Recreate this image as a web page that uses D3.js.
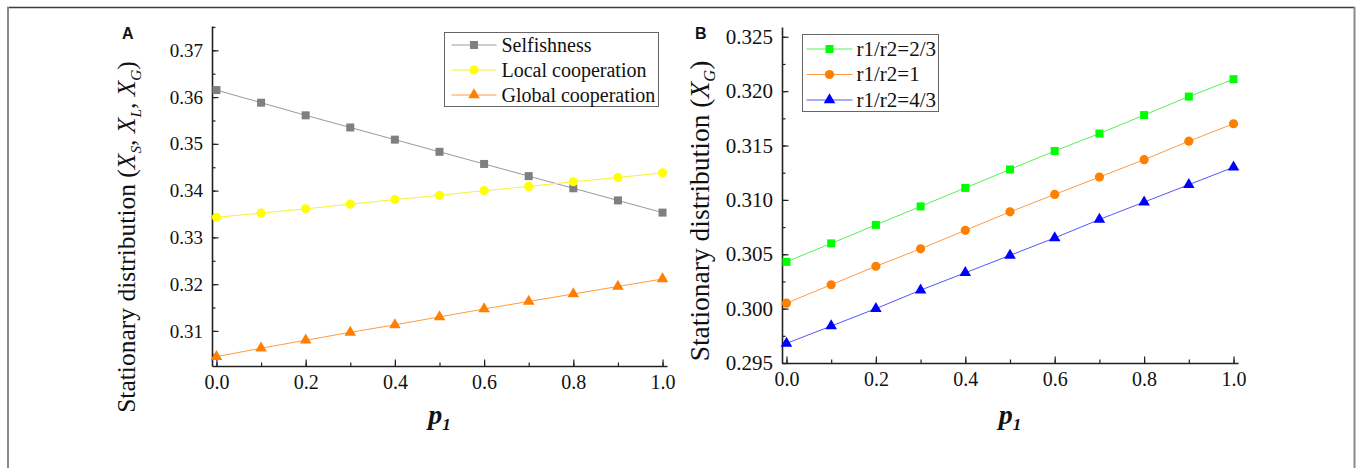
<!DOCTYPE html>
<html>
<head>
<meta charset="utf-8">
<script src="https://cdn.jsdelivr.net/npm/d3@7"></script>
<style>
  body { margin: 0; background: #fff; }
  svg { display: block; }
  svg text { font-family: "Liberation Serif", "Times New Roman", serif; }
</style>
</head>
<body>
<svg id="chart" width="1360" height="468"></svg>
<script>
// x values shared by both panels
const p1 = [0, 0.1, 0.2, 0.3, 0.4, 0.5, 0.6, 0.7, 0.8, 0.9, 1.0];

// panel A
const selfishness = [0.3615, 0.3588, 0.3561, 0.3535, 0.3509, 0.3483, 0.3457, 0.3431, 0.3405, 0.3379, 0.3353];
const localCoop = [0.3343, 0.3352, 0.3361, 0.3371, 0.3381, 0.339, 0.34, 0.3409, 0.3419, 0.3428, 0.3438];
const globalCoop = [0.3045, 0.3063, 0.308, 0.3097, 0.3113, 0.313, 0.3147, 0.3163, 0.3179, 0.3195, 0.3211];
const namesA = ["Selfishness", "Local cooperation", "Global cooperation"];
const ticksA = [0.31, 0.32, 0.33, 0.34, 0.35, 0.36, 0.37];

// panel B
const ratioTwoThirds = [0.3043, 0.306, 0.3077, 0.3094, 0.3111, 0.3128, 0.3145, 0.3161, 0.3178, 0.3195, 0.3211];
const ratioOne = [0.3005, 0.3022, 0.3039, 0.3055, 0.3072, 0.3089, 0.3105, 0.3121, 0.3137, 0.3154, 0.317];
const ratioFourThirds = [0.2968, 0.2984, 0.3, 0.3017, 0.3033, 0.3049, 0.3065, 0.3082, 0.3098, 0.3114, 0.313];
const namesB = ["r1/r2=2/3", "r1/r2=1", "r1/r2=4/3"];
const ticksB = [0.295, 0.3, 0.305, 0.31, 0.315, 0.32, 0.325];

const xTicks = [0, 0.2, 0.4, 0.6, 0.8, 1.0];

const svg = d3.select("svg#chart");

// outer frame (bottom edge is cut off in the original)
svg.append("line").attr("x1", 7).attr("x2", 1355).attr("y1", 7.5).attr("y2", 7.5)
  .attr("stroke", "#3c3c3c").attr("stroke-width", 1.5);
svg.append("line").attr("x1", 8).attr("x2", 8).attr("y1", 7).attr("y2", 470)
  .attr("stroke", "#8a8a8a").attr("stroke-width", 2);
svg.append("line").attr("x1", 1354.5).attr("x2", 1354.5).attr("y1", 7).attr("y2", 470)
  .attr("stroke", "#8a8a8a").attr("stroke-width", 2);

const symbolOf = {
  square: d3.symbol().type(d3.symbolSquare).size(64),
  circle: d3.symbol().type(d3.symbolCircle).size(66),
  triangle: d3.symbol().type(d3.symbolTriangle).size(58)
};

drawPanel({
  letter: "A",
  letterX: 122,
  xRange: [212, 667],
  yRange: [366, 26],
  yDomain: [0.3025, 0.3752],
  ticks: ticksA,
  tickFont: 19,
  minorStep: 0.005,
  fmt: d3.format(".2f"),
  titleX: 135,
  titleY: 237,
  titleFont: 25.5,
  titleSubs: ["S", "L", "G"],
  legendFont: 20,
  series: [
    { name: namesA[0], values: selfishness, color: "#7f7f7f", line: "#9a9a9a", shape: "square" },
    { name: namesA[1], values: localCoop, color: "#ffff00", line: "#f2f23a", shape: "circle" },
    { name: namesA[2], values: globalCoop, color: "#ff8000", line: "#ff9a40", shape: "triangle" }
  ],
  legend: { x: 444.5, y: 32.5, w: 214, h: 74, row0: 45, rowStep: 25, lineX: [451.5, 496.5], textX: 501.5 }
});

drawPanel({
  letter: "B",
  letterX: 695,
  xRange: [782, 1238],
  yRange: [363, 27],
  yDomain: [0.295, 0.3259],
  ticks: ticksB,
  tickFont: 21,
  minorStep: 0.0025,
  fmt: d3.format(".3f"),
  titleX: 709,
  titleY: 211,
  titleFont: 27.5,
  titleSubs: ["G"],
  legendFont: 21,
  series: [
    { name: namesB[0], values: ratioTwoThirds, color: "#00ff00", line: "#55f055", shape: "square" },
    { name: namesB[1], values: ratioOne, color: "#ff8000", line: "#ff9a40", shape: "circle" },
    { name: namesB[2], values: ratioFourThirds, color: "#0000ff", line: "#5555ff", shape: "triangle" }
  ],
  legend: { x: 802.5, y: 34.5, w: 136, h: 77, row0: 49, rowStep: 25.5, lineX: [806.5, 852.5], textX: 856.5 }
});

function drawPanel(cfg) {
  const x = d3.scaleLinear().domain([-0.01, 1.01]).range(cfg.xRange);
  const y = d3.scaleLinear().domain(cfg.yDomain).range(cfg.yRange);
  const g = svg.append("g");
  const axisY0 = cfg.yRange[0];
  const axisX0 = cfg.xRange[0];

  // minor ticks
  const minorY = d3.range(cfg.ticks[0] - cfg.minorStep, cfg.yDomain[1] + 1e-9, cfg.minorStep)
    .filter(v => v >= cfg.yDomain[0] && v <= cfg.yDomain[1]);
  g.append("g").attr("transform", `translate(${axisX0},0)`)
    .call(d3.axisLeft(y).tickValues(minorY).tickFormat("").tickSizeInner(-3.5).tickSizeOuter(0))
    .call(s => s.select(".domain").remove());
  g.append("g").attr("transform", `translate(0,${axisY0})`)
    .call(d3.axisBottom(x).tickValues(p1).tickFormat("").tickSizeInner(-3.5).tickSizeOuter(0))
    .call(s => s.select(".domain").remove());

  // major ticks + labels
  const yAxis = g.append("g").attr("transform", `translate(${axisX0},0)`)
    .call(d3.axisLeft(y).tickValues(cfg.ticks).tickFormat(cfg.fmt).tickSizeInner(-6.5).tickSizeOuter(0).tickPadding(9));
  const xAxis = g.append("g").attr("transform", `translate(0,${axisY0})`)
    .call(d3.axisBottom(x).tickValues(xTicks).tickFormat(d3.format(".1f")).tickSizeInner(-6.5).tickSizeOuter(0).tickPadding(9));

  [yAxis, xAxis].forEach(a => {
    a.attr("font-family", null).attr("font-size", null);
    a.selectAll("text").attr("fill", "#111");
    a.select(".domain").attr("stroke", "#222").attr("stroke-width", 1.6);
  });
  yAxis.selectAll("text").attr("font-size", cfg.tickFont);
  xAxis.selectAll("text").attr("font-size", 20);
  g.selectAll("g.tick line").attr("stroke", "#222").attr("stroke-width", 1.2);

  // series
  const line = d3.line().x((d, i) => x(p1[i])).y(d => y(d));
  cfg.series.forEach(s => {
    g.append("path").datum(s.values).attr("d", line)
      .attr("fill", "none").attr("stroke", s.line).attr("stroke-width", 1);
    g.append("g").selectAll("path").data(s.values).join("path")
      .attr("transform", (d, i) => `translate(${x(p1[i])},${y(d)})`)
      .attr("d", symbolOf[s.shape]())
      .attr("fill", s.color);
  });

  // legend
  const L = cfg.legend;
  const lg = g.append("g");
  lg.append("rect").attr("x", L.x).attr("y", L.y).attr("width", L.w).attr("height", L.h)
    .attr("fill", "#fff").attr("stroke", "#666").attr("stroke-width", 1);
  cfg.series.forEach((s, i) => {
    const ry = L.row0 + i * L.rowStep;
    lg.append("line").attr("x1", L.lineX[0]).attr("x2", L.lineX[1]).attr("y1", ry).attr("y2", ry)
      .attr("stroke", s.line).attr("stroke-width", 1);
    lg.append("path").attr("transform", `translate(${(L.lineX[0] + L.lineX[1]) / 2},${ry})`)
      .attr("d", symbolOf[s.shape]()).attr("fill", s.color);
    lg.append("text").attr("x", L.textX).attr("y", ry).attr("dy", "0.33em")
      .attr("font-size", cfg.legendFont).attr("fill", "#111").text(s.name);
  });

  // panel letter
  g.append("text").attr("x", cfg.letterX).attr("y", 38.5)
    .style("font-family", "'Liberation Sans', Arial, sans-serif").attr("font-weight", "bold")
    .attr("font-size", 16).attr("fill", "#111").text(cfg.letter);

  // y title
  const t = g.append("text")
    .attr("transform", `translate(${cfg.titleX},${cfg.titleY}) rotate(-90)`)
    .attr("text-anchor", "middle").attr("font-size", cfg.titleFont).attr("fill", "#111");
  t.append("tspan").text("Stationary distribution (");
  cfg.titleSubs.forEach((sub, i) => {
    t.append("tspan").attr("font-style", "italic").text("X");
    t.append("tspan").attr("font-style", "italic").attr("font-size", cfg.titleFont * 0.6).attr("dy", 6).text(sub);
    t.append("tspan").attr("dy", -6).text(i < cfg.titleSubs.length - 1 ? ", " : ")");
  });

  // x title
  const xt = g.append("text")
    .attr("x", (cfg.xRange[0] + cfg.xRange[1]) / 2).attr("y", 424)
    .attr("text-anchor", "middle").attr("font-size", 28)
    .attr("font-weight", "bold").attr("font-style", "italic").attr("fill", "#111");
  xt.append("tspan").text("p");
  xt.append("tspan").attr("font-size", 17).attr("dy", 6).text("1");
}
</script>
</body>
</html>
